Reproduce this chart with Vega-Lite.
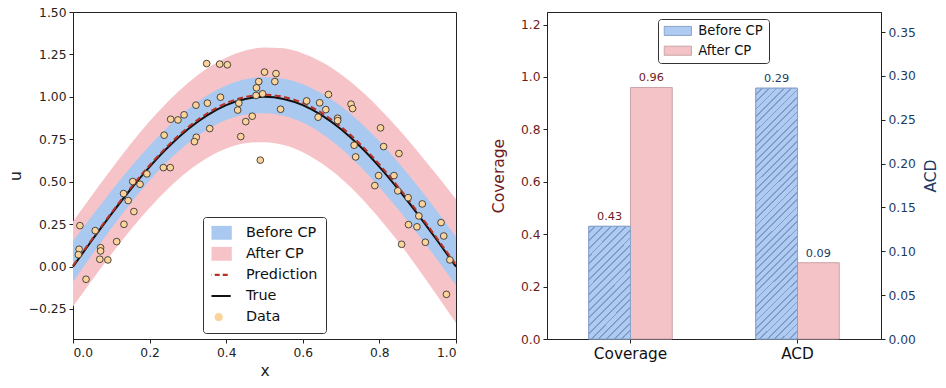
{
  "$schema": "https://vega.github.io/schema/vega-lite/v6.json",
  "padding": {"left": 7, "top": 5, "right": 0, "bottom": 0},
  "background": "white",
  "config": {
    "font": "DejaVu Sans",
    "view": {"stroke": "#222222", "strokeWidth": 1},
    "axis": {"grid": false, "tickColor": "#222222", "domainColor": "#222222", "domainWidth": 1, "tickWidth": 1, "tickSize": 4, "labelPadding": 3, "labelFontSize": 12.3, "labelColor": "#222222", "titleFontSize": 15.5, "titleFontWeight": "normal", "titleColor": "#222222"}
  },
  "datasets": {
    "curve": [
      {"x": 0, "t": 0, "p": 0.005, "blo": -0.09, "bhi": 0.15, "plo": -0.235, "phi": 0.265},
      {"x": 0.05, "t": 0.1564, "p": 0.1624, "blo": 0.0694, "bhi": 0.2994, "plo": -0.0786, "phi": 0.4214},
      {"x": 0.1, "t": 0.309, "p": 0.316, "blo": 0.225, "bhi": 0.445, "plo": 0.072, "phi": 0.574},
      {"x": 0.15, "t": 0.454, "p": 0.462, "blo": 0.372, "bhi": 0.584, "plo": 0.215, "phi": 0.721},
      {"x": 0.2, "t": 0.5878, "p": 0.5968, "blo": 0.5068, "bhi": 0.7128, "plo": 0.3458, "phi": 0.8558},
      {"x": 0.25, "t": 0.7071, "p": 0.7171, "blo": 0.6261, "bhi": 0.8281, "plo": 0.4631, "phi": 0.9771},
      {"x": 0.3, "t": 0.809, "p": 0.82, "blo": 0.727, "bhi": 0.927, "plo": 0.561, "phi": 1.081},
      {"x": 0.35, "t": 0.891, "p": 0.902, "blo": 0.806, "bhi": 1.008, "plo": 0.639, "phi": 1.167},
      {"x": 0.4, "t": 0.9511, "p": 0.9631, "blo": 0.8631, "bhi": 1.0671, "plo": 0.6951, "phi": 1.2311},
      {"x": 0.45, "t": 0.9877, "p": 0.9997, "blo": 0.8957, "bhi": 1.1037, "plo": 0.7267, "phi": 1.2727},
      {"x": 0.5, "t": 1, "p": 1.012, "blo": 0.904, "bhi": 1.116, "plo": 0.733, "phi": 1.291},
      {"x": 0.55, "t": 0.9877, "p": 0.9997, "blo": 0.8887, "bhi": 1.1067, "plo": 0.7157, "phi": 1.2857},
      {"x": 0.6, "t": 0.9511, "p": 0.9641, "blo": 0.8481, "bhi": 1.0741, "plo": 0.6741, "phi": 1.2561},
      {"x": 0.65, "t": 0.891, "p": 0.904, "blo": 0.783, "bhi": 1.019, "plo": 0.607, "phi": 1.205},
      {"x": 0.7, "t": 0.809, "p": 0.823, "blo": 0.696, "bhi": 0.944, "plo": 0.519, "phi": 1.131},
      {"x": 0.75, "t": 0.7071, "p": 0.7211, "blo": 0.5891, "bhi": 0.8491, "plo": 0.4101, "phi": 1.0401},
      {"x": 0.8, "t": 0.5878, "p": 0.6018, "blo": 0.4678, "bhi": 0.7378, "plo": 0.2838, "phi": 0.9318},
      {"x": 0.85, "t": 0.454, "p": 0.467, "blo": 0.334, "bhi": 0.612, "plo": 0.144, "phi": 0.81},
      {"x": 0.9, "t": 0.309, "p": 0.321, "blo": 0.192, "bhi": 0.474, "plo": -0.008, "phi": 0.678},
      {"x": 0.95, "t": 0.1564, "p": 0.1674, "blo": 0.0434, "bhi": 0.3274, "plo": -0.1686, "phi": 0.5394},
      {"x": 1, "t": 0, "p": 0.01, "blo": -0.11, "bhi": 0.176, "plo": -0.333, "phi": 0.397}
    ],
    "pts": [
      {"x": 0.349, "u": 1.196}, {"x": 0.383, "u": 1.193}, {"x": 0.403, "u": 1.189}, {"x": 0.5, "u": 1.146},
      {"x": 0.53, "u": 1.137}, {"x": 0.485, "u": 1.09}, {"x": 0.527, "u": 1.09}, {"x": 0.479, "u": 1.053},
      {"x": 0.495, "u": 1.018}, {"x": 0.478, "u": 1.008}, {"x": 0.385, "u": 0.998}, {"x": 0.351, "u": 0.963},
      {"x": 0.433, "u": 0.963}, {"x": 0.321, "u": 0.951}, {"x": 0.43, "u": 0.922}, {"x": 0.542, "u": 0.927},
      {"x": 0.61, "u": 0.976}, {"x": 0.644, "u": 0.965}, {"x": 0.667, "u": 1.014}, {"x": 0.66, "u": 0.925},
      {"x": 0.64, "u": 0.88}, {"x": 0.691, "u": 0.874}, {"x": 0.691, "u": 0.86}, {"x": 0.726, "u": 0.957},
      {"x": 0.73, "u": 0.931}, {"x": 0.255, "u": 0.868}, {"x": 0.274, "u": 0.864}, {"x": 0.29, "u": 0.894},
      {"x": 0.468, "u": 0.886}, {"x": 0.451, "u": 0.854}, {"x": 0.357, "u": 0.813}, {"x": 0.438, "u": 0.766},
      {"x": 0.322, "u": 0.762}, {"x": 0.317, "u": 0.736}, {"x": 0.238, "u": 0.774}, {"x": 0.489, "u": 0.627},
      {"x": 0.236, "u": 0.583}, {"x": 0.254, "u": 0.583}, {"x": 0.193, "u": 0.546}, {"x": 0.156, "u": 0.501},
      {"x": 0.175, "u": 0.485}, {"x": 0.132, "u": 0.43}, {"x": 0.803, "u": 0.817}, {"x": 0.811, "u": 0.707},
      {"x": 0.734, "u": 0.715}, {"x": 0.738, "u": 0.646}, {"x": 0.851, "u": 0.666}, {"x": 0.798, "u": 0.536},
      {"x": 0.788, "u": 0.477}, {"x": 0.838, "u": 0.536}, {"x": 0.848, "u": 0.446}, {"x": 0.875, "u": 0.406},
      {"x": 0.144, "u": 0.389}, {"x": 0.159, "u": 0.324}, {"x": 0.133, "u": 0.249}, {"x": 0.114, "u": 0.147},
      {"x": 0.058, "u": 0.212}, {"x": 0.018, "u": 0.241}, {"x": 0.016, "u": 0.102}, {"x": 0.014, "u": 0.07},
      {"x": 0.072, "u": 0.111}, {"x": 0.072, "u": 0.092}, {"x": 0.07, "u": 0.043}, {"x": 0.091, "u": 0.039},
      {"x": 0.034, "u": -0.075}, {"x": 0.912, "u": 0.369}, {"x": 0.903, "u": 0.298}, {"x": 0.961, "u": 0.259},
      {"x": 0.968, "u": 0.18}, {"x": 0.876, "u": 0.247}, {"x": 0.898, "u": 0.234}, {"x": 0.858, "u": 0.131},
      {"x": 0.92, "u": 0.143}, {"x": 0.984, "u": 0.039}, {"x": 0.975, "u": -0.164}
    ],
    "bars": [
      {"metric": "Coverage", "method": "Before CP", "value": 0.43},
      {"metric": "Coverage", "method": "After CP", "value": 0.96},
      {"metric": "ACD", "method": "Before CP", "value": 0.286},
      {"metric": "ACD", "method": "After CP", "value": 0.087}
    ]
  },
  "spacing": 91,
  "bounds": "flush",
  "resolve": {"scale": {"color": "independent", "stroke": "independent"}, "legend": {"color": "independent"}},
  "hconcat": [
    {
      "width": 383,
      "height": 327,
      "encoding": {
        "x": {"field": "x", "type": "quantitative", "title": "x", "scale": {"domain": [0, 1], "nice": false, "zero": false}, "axis": {"values": [0, 0.2, 0.4, 0.6, 0.8, 1], "format": ".1f", "titlePadding": 5}},
        "color": {
          "scale": {"domain": ["Before CP", "After CP", "Prediction", "True", "Data"], "range": ["#aac9f1", "#f6c4c8", "#b83227", "#111111", "#fbd39b"]},
          "legend": {
            "orient": "none", "legendX": 130, "legendY": 205, "title": null,
            "labelFontSize": 14.4, "labelColor": "#111111", "symbolSize": 576, "clipHeight": 14.4, "labelOffset": 20, "rowPadding": 5.1,
            "padding": 8.5, "strokeColor": "#333333", "cornerRadius": 3, "fillColor": "white",
            "encode": {
              "symbols": {
                "update": {
                  "shape": {"signal": "datum.value === 'Data' ? 'circle' : (datum.value === 'Prediction' || datum.value === 'True') ? 'stroke' : 'M-1,-0.49L1,-0.49L1,0.49L-1,0.49Z'"},
                  "size": {"signal": "datum.value === 'Data' ? 55 : 576"},
                  "fill": {"signal": "datum.value === 'Before CP' ? '#aac9f1' : datum.value === 'After CP' ? '#f6c4c8' : datum.value === 'Data' ? '#fbd39b' : 'transparent'"},
                  "stroke": {"signal": "datum.value === 'Prediction' ? '#b83227' : datum.value === 'True' ? '#111111' : datum.value === 'Data' ? '#111111' : 'transparent'"},
                  "strokeWidth": {"signal": "datum.value === 'Data' ? 1 : 2.2"},
                  "strokeDash": {"signal": "datum.value === 'Prediction' ? [5, 3] : []"},
                  "strokeOpacity": {"value": 1},
                  "fillOpacity": {"value": 1},
                  "opacity": {"value": 1}
                }
              }
            }
          }
        }
      },
      "layer": [
        {
          "data": {"name": "curve"},
          "mark": {"type": "area", "interpolate": "monotone", "opacity": 1},
          "encoding": {
            "y": {"field": "plo", "type": "quantitative", "title": "u", "scale": {"domain": [-0.427, 1.5], "nice": false, "zero": false}, "axis": {"values": [-0.25, 0, 0.25, 0.5, 0.75, 1, 1.25, 1.5], "format": ".2f", "titlePadding": 5}},
            "y2": {"field": "phi"},
            "color": {"datum": "After CP"}
          }
        },
        {
          "data": {"name": "curve"},
          "mark": {"type": "area", "interpolate": "monotone", "opacity": 1},
          "encoding": {
            "y": {"field": "blo", "type": "quantitative", "title": "u", "scale": {"domain": [-0.427, 1.5], "nice": false, "zero": false}},
            "y2": {"field": "bhi"},
            "color": {"datum": "Before CP"}
          }
        },
        {
          "data": {"name": "curve"},
          "mark": {"type": "line", "interpolate": "monotone", "strokeWidth": 2},
          "encoding": {
            "y": {"field": "t", "type": "quantitative", "title": "u", "scale": {"domain": [-0.427, 1.5], "nice": false, "zero": false}},
            "color": {"datum": "True"}
          }
        },
        {
          "data": {"name": "curve"},
          "mark": {"type": "line", "interpolate": "monotone", "strokeWidth": 2, "strokeDash": [6, 3.5]},
          "encoding": {
            "y": {"field": "p", "type": "quantitative", "title": "u", "scale": {"domain": [-0.427, 1.5], "nice": false, "zero": false}},
            "color": {"datum": "Prediction"}
          }
        },
        {
          "data": {"name": "pts"},
          "mark": {"type": "circle", "size": 45, "opacity": 1, "stroke": "#222222", "strokeWidth": 0.8},
          "encoding": {
            "y": {"field": "u", "type": "quantitative", "title": "u", "scale": {"domain": [-0.427, 1.5], "nice": false, "zero": false}},
            "color": {"datum": "Data"}
          }
        }
      ]
    },
    {
      "width": 334,
      "height": 327,
      "data": {"name": "bars"},
      "encoding": {
        "x": {"field": "metric", "type": "nominal", "title": null, "sort": ["Coverage", "ACD"], "scale": {"domain": ["Coverage", "ACD"], "paddingInner": 0.5, "paddingOuter": 0.25}, "axis": {"labelAngle": 0, "labelFontSize": 15.3, "labelColor": "#111111"}},
        "xOffset": {"field": "method", "type": "nominal", "sort": ["Before CP", "After CP"], "scale": {"domain": ["Before CP", "After CP"], "paddingInner": 0, "paddingOuter": 0}}
      },
      "layer": [
        {
          "transform": [{"filter": "datum.metric === 'Coverage'"}],
          "mark": {"type": "bar", "strokeWidth": 1},
          "encoding": {
            "y": {"field": "value", "type": "quantitative", "scale": {"domain": [0, 1.248], "nice": false}, "axis": {"orient": "left", "title": "Coverage", "values": [0, 0.2, 0.4, 0.6, 0.8, 1, 1.2], "format": ".1f", "labelColor": "#6e1a1a", "titleColor": "#6e1a1a", "titlePadding": 14}},
            "color": {
              "field": "method", "type": "nominal",
              "scale": {"domain": ["Before CP", "After CP"], "range": ["#afcbf2", "#f3c3c7"]},
              "legend": {
                "orient": "none", "legendX": 111, "legendY": 7, "title": null,
                "labelFontSize": 13.2, "labelColor": "#111111", "symbolSize": 745, "clipHeight": 13.2, "labelOffset": 6, "rowPadding": 4.8,
                "padding": 5.3, "strokeColor": "#333333", "cornerRadius": 3, "fillColor": "white",
                "symbolType": "M-1,-0.33L1,-0.33L1,0.33L-1,0.33Z",
                "encode": {
                  "symbols": {
                    "update": {
                      "fill": {"signal": "datum.value === 'Before CP' ? {gradient: 'linear', x1: 0, y1: 0, x2: 1.2, y2: 0.396, stops: [{offset: 0, color: '#afcbf2'}, {offset: 0.15, color: '#afcbf2'}, {offset: 0.15, color: '#7f9dcc'}, {offset: 0.2, color: '#7f9dcc'}, {offset: 0.2, color: '#afcbf2'}, {offset: 0.35, color: '#afcbf2'}, {offset: 0.35, color: '#7f9dcc'}, {offset: 0.4, color: '#7f9dcc'}, {offset: 0.4, color: '#afcbf2'}, {offset: 0.55, color: '#afcbf2'}, {offset: 0.55, color: '#7f9dcc'}, {offset: 0.6, color: '#7f9dcc'}, {offset: 0.6, color: '#afcbf2'}, {offset: 0.75, color: '#afcbf2'}, {offset: 0.75, color: '#7f9dcc'}, {offset: 0.8, color: '#7f9dcc'}, {offset: 0.8, color: '#afcbf2'}, {offset: 0.95, color: '#afcbf2'}, {offset: 0.95, color: '#7f9dcc'}, {offset: 1, color: '#7f9dcc'}]} : '#f3c3c7'"},
                      "stroke": {"signal": "datum.value === 'Before CP' ? '#8aa2c6' : '#c9a3a7'"},
                      "strokeWidth": {"value": 1},
                      "opacity": {"value": 1}
                    }
                  }
                }
              }
            },
            "stroke": {"field": "method", "type": "nominal", "scale": {"domain": ["Before CP", "After CP"], "range": ["#8aa2c6", "#c9a3a7"]}, "legend": null}
          }
        },
        {
          "transform": [{"filter": "datum.metric === 'ACD'"}],
          "mark": {"type": "bar", "strokeWidth": 1},
          "encoding": {
            "y": {"field": "value", "type": "quantitative", "scale": {"domain": [0, 0.3729], "nice": false}, "axis": {"orient": "right", "title": "ACD", "values": [0, 0.05, 0.1, 0.15, 0.2, 0.25, 0.3, 0.35], "format": ".2f", "labelColor": "#1c3a63", "titleColor": "#1c3a63", "titleAngle": 270, "titleBaseline": "top", "titlePadding": 8}},
            "color": {"field": "method", "type": "nominal", "scale": {"domain": ["Before CP", "After CP"], "range": ["#afcbf2", "#f3c3c7"]}},
            "stroke": {"field": "method", "type": "nominal", "scale": {"domain": ["Before CP", "After CP"], "range": ["#8aa2c6", "#c9a3a7"]}, "legend": null}
          }
        },
        {
          "transform": [{"filter": "datum.metric === 'Coverage' && datum.method === 'Before CP'"}],
          "mark": {
            "type": "bar", "stroke": "#8aa2c6", "strokeWidth": 1,
            "fill": {"gradient": "linear", "x1": 0, "y1": 0, "x2": 0.4496, "y2": 1.2054, "stops": [
              {"offset": 0, "color": "#afcbf2"},
              {"offset": 0.0375, "color": "#afcbf2"}, {"offset": 0.0375, "color": "#7f9dcc"}, {"offset": 0.05, "color": "#7f9dcc"}, {"offset": 0.05, "color": "#afcbf2"},
              {"offset": 0.0875, "color": "#afcbf2"}, {"offset": 0.0875, "color": "#7f9dcc"}, {"offset": 0.1, "color": "#7f9dcc"}, {"offset": 0.1, "color": "#afcbf2"},
              {"offset": 0.1375, "color": "#afcbf2"}, {"offset": 0.1375, "color": "#7f9dcc"}, {"offset": 0.15, "color": "#7f9dcc"}, {"offset": 0.15, "color": "#afcbf2"},
              {"offset": 0.1875, "color": "#afcbf2"}, {"offset": 0.1875, "color": "#7f9dcc"}, {"offset": 0.2, "color": "#7f9dcc"}, {"offset": 0.2, "color": "#afcbf2"},
              {"offset": 0.2375, "color": "#afcbf2"}, {"offset": 0.2375, "color": "#7f9dcc"}, {"offset": 0.25, "color": "#7f9dcc"}, {"offset": 0.25, "color": "#afcbf2"},
              {"offset": 0.2875, "color": "#afcbf2"}, {"offset": 0.2875, "color": "#7f9dcc"}, {"offset": 0.3, "color": "#7f9dcc"}, {"offset": 0.3, "color": "#afcbf2"},
              {"offset": 0.3375, "color": "#afcbf2"}, {"offset": 0.3375, "color": "#7f9dcc"}, {"offset": 0.35, "color": "#7f9dcc"}, {"offset": 0.35, "color": "#afcbf2"},
              {"offset": 0.3875, "color": "#afcbf2"}, {"offset": 0.3875, "color": "#7f9dcc"}, {"offset": 0.4, "color": "#7f9dcc"}, {"offset": 0.4, "color": "#afcbf2"},
              {"offset": 0.4375, "color": "#afcbf2"}, {"offset": 0.4375, "color": "#7f9dcc"}, {"offset": 0.45, "color": "#7f9dcc"}, {"offset": 0.45, "color": "#afcbf2"},
              {"offset": 0.4875, "color": "#afcbf2"}, {"offset": 0.4875, "color": "#7f9dcc"}, {"offset": 0.5, "color": "#7f9dcc"}, {"offset": 0.5, "color": "#afcbf2"},
              {"offset": 0.5375, "color": "#afcbf2"}, {"offset": 0.5375, "color": "#7f9dcc"}, {"offset": 0.55, "color": "#7f9dcc"}, {"offset": 0.55, "color": "#afcbf2"},
              {"offset": 0.5875, "color": "#afcbf2"}, {"offset": 0.5875, "color": "#7f9dcc"}, {"offset": 0.6, "color": "#7f9dcc"}, {"offset": 0.6, "color": "#afcbf2"},
              {"offset": 0.6375, "color": "#afcbf2"}, {"offset": 0.6375, "color": "#7f9dcc"}, {"offset": 0.65, "color": "#7f9dcc"}, {"offset": 0.65, "color": "#afcbf2"},
              {"offset": 0.6875, "color": "#afcbf2"}, {"offset": 0.6875, "color": "#7f9dcc"}, {"offset": 0.7, "color": "#7f9dcc"}, {"offset": 0.7, "color": "#afcbf2"},
              {"offset": 0.7375, "color": "#afcbf2"}, {"offset": 0.7375, "color": "#7f9dcc"}, {"offset": 0.75, "color": "#7f9dcc"}, {"offset": 0.75, "color": "#afcbf2"},
              {"offset": 0.7875, "color": "#afcbf2"}, {"offset": 0.7875, "color": "#7f9dcc"}, {"offset": 0.8, "color": "#7f9dcc"}, {"offset": 0.8, "color": "#afcbf2"},
              {"offset": 0.8375, "color": "#afcbf2"}, {"offset": 0.8375, "color": "#7f9dcc"}, {"offset": 0.85, "color": "#7f9dcc"}, {"offset": 0.85, "color": "#afcbf2"},
              {"offset": 0.8875, "color": "#afcbf2"}, {"offset": 0.8875, "color": "#7f9dcc"}, {"offset": 0.9, "color": "#7f9dcc"}, {"offset": 0.9, "color": "#afcbf2"},
              {"offset": 0.9375, "color": "#afcbf2"}, {"offset": 0.9375, "color": "#7f9dcc"}, {"offset": 0.95, "color": "#7f9dcc"}, {"offset": 0.95, "color": "#afcbf2"},
              {"offset": 0.9875, "color": "#afcbf2"}, {"offset": 0.9875, "color": "#7f9dcc"}, {"offset": 1, "color": "#7f9dcc"}
            ]}
          },
          "encoding": {
            "y": {"field": "value", "type": "quantitative", "scale": {"domain": [0, 1.248], "nice": false}, "axis": null}
          }
        },
        {
          "transform": [{"filter": "datum.metric === 'ACD' && datum.method === 'Before CP'"}],
          "mark": {
            "type": "bar", "stroke": "#8aa2c6", "strokeWidth": 1,
            "fill": {"gradient": "linear", "x1": 0, "y1": 0, "x2": 0.1881, "y2": 1.1346, "stops": [
              {"offset": 0, "color": "#afcbf2"},
              {"offset": 0.01875, "color": "#afcbf2"}, {"offset": 0.01875, "color": "#7f9dcc"}, {"offset": 0.025, "color": "#7f9dcc"}, {"offset": 0.025, "color": "#afcbf2"},
              {"offset": 0.04375, "color": "#afcbf2"}, {"offset": 0.04375, "color": "#7f9dcc"}, {"offset": 0.05, "color": "#7f9dcc"}, {"offset": 0.05, "color": "#afcbf2"},
              {"offset": 0.06875, "color": "#afcbf2"}, {"offset": 0.06875, "color": "#7f9dcc"}, {"offset": 0.075, "color": "#7f9dcc"}, {"offset": 0.075, "color": "#afcbf2"},
              {"offset": 0.09375, "color": "#afcbf2"}, {"offset": 0.09375, "color": "#7f9dcc"}, {"offset": 0.1, "color": "#7f9dcc"}, {"offset": 0.1, "color": "#afcbf2"},
              {"offset": 0.11875, "color": "#afcbf2"}, {"offset": 0.11875, "color": "#7f9dcc"}, {"offset": 0.125, "color": "#7f9dcc"}, {"offset": 0.125, "color": "#afcbf2"},
              {"offset": 0.14375, "color": "#afcbf2"}, {"offset": 0.14375, "color": "#7f9dcc"}, {"offset": 0.15, "color": "#7f9dcc"}, {"offset": 0.15, "color": "#afcbf2"},
              {"offset": 0.16875, "color": "#afcbf2"}, {"offset": 0.16875, "color": "#7f9dcc"}, {"offset": 0.175, "color": "#7f9dcc"}, {"offset": 0.175, "color": "#afcbf2"},
              {"offset": 0.19375, "color": "#afcbf2"}, {"offset": 0.19375, "color": "#7f9dcc"}, {"offset": 0.2, "color": "#7f9dcc"}, {"offset": 0.2, "color": "#afcbf2"},
              {"offset": 0.21875, "color": "#afcbf2"}, {"offset": 0.21875, "color": "#7f9dcc"}, {"offset": 0.225, "color": "#7f9dcc"}, {"offset": 0.225, "color": "#afcbf2"},
              {"offset": 0.24375, "color": "#afcbf2"}, {"offset": 0.24375, "color": "#7f9dcc"}, {"offset": 0.25, "color": "#7f9dcc"}, {"offset": 0.25, "color": "#afcbf2"},
              {"offset": 0.26875, "color": "#afcbf2"}, {"offset": 0.26875, "color": "#7f9dcc"}, {"offset": 0.275, "color": "#7f9dcc"}, {"offset": 0.275, "color": "#afcbf2"},
              {"offset": 0.29375, "color": "#afcbf2"}, {"offset": 0.29375, "color": "#7f9dcc"}, {"offset": 0.3, "color": "#7f9dcc"}, {"offset": 0.3, "color": "#afcbf2"},
              {"offset": 0.31875, "color": "#afcbf2"}, {"offset": 0.31875, "color": "#7f9dcc"}, {"offset": 0.325, "color": "#7f9dcc"}, {"offset": 0.325, "color": "#afcbf2"},
              {"offset": 0.34375, "color": "#afcbf2"}, {"offset": 0.34375, "color": "#7f9dcc"}, {"offset": 0.35, "color": "#7f9dcc"}, {"offset": 0.35, "color": "#afcbf2"},
              {"offset": 0.36875, "color": "#afcbf2"}, {"offset": 0.36875, "color": "#7f9dcc"}, {"offset": 0.375, "color": "#7f9dcc"}, {"offset": 0.375, "color": "#afcbf2"},
              {"offset": 0.39375, "color": "#afcbf2"}, {"offset": 0.39375, "color": "#7f9dcc"}, {"offset": 0.4, "color": "#7f9dcc"}, {"offset": 0.4, "color": "#afcbf2"},
              {"offset": 0.41875, "color": "#afcbf2"}, {"offset": 0.41875, "color": "#7f9dcc"}, {"offset": 0.425, "color": "#7f9dcc"}, {"offset": 0.425, "color": "#afcbf2"},
              {"offset": 0.44375, "color": "#afcbf2"}, {"offset": 0.44375, "color": "#7f9dcc"}, {"offset": 0.45, "color": "#7f9dcc"}, {"offset": 0.45, "color": "#afcbf2"},
              {"offset": 0.46875, "color": "#afcbf2"}, {"offset": 0.46875, "color": "#7f9dcc"}, {"offset": 0.475, "color": "#7f9dcc"}, {"offset": 0.475, "color": "#afcbf2"},
              {"offset": 0.49375, "color": "#afcbf2"}, {"offset": 0.49375, "color": "#7f9dcc"}, {"offset": 0.5, "color": "#7f9dcc"}, {"offset": 0.5, "color": "#afcbf2"},
              {"offset": 0.51875, "color": "#afcbf2"}, {"offset": 0.51875, "color": "#7f9dcc"}, {"offset": 0.525, "color": "#7f9dcc"}, {"offset": 0.525, "color": "#afcbf2"},
              {"offset": 0.54375, "color": "#afcbf2"}, {"offset": 0.54375, "color": "#7f9dcc"}, {"offset": 0.55, "color": "#7f9dcc"}, {"offset": 0.55, "color": "#afcbf2"},
              {"offset": 0.56875, "color": "#afcbf2"}, {"offset": 0.56875, "color": "#7f9dcc"}, {"offset": 0.575, "color": "#7f9dcc"}, {"offset": 0.575, "color": "#afcbf2"},
              {"offset": 0.59375, "color": "#afcbf2"}, {"offset": 0.59375, "color": "#7f9dcc"}, {"offset": 0.6, "color": "#7f9dcc"}, {"offset": 0.6, "color": "#afcbf2"},
              {"offset": 0.61875, "color": "#afcbf2"}, {"offset": 0.61875, "color": "#7f9dcc"}, {"offset": 0.625, "color": "#7f9dcc"}, {"offset": 0.625, "color": "#afcbf2"},
              {"offset": 0.64375, "color": "#afcbf2"}, {"offset": 0.64375, "color": "#7f9dcc"}, {"offset": 0.65, "color": "#7f9dcc"}, {"offset": 0.65, "color": "#afcbf2"},
              {"offset": 0.66875, "color": "#afcbf2"}, {"offset": 0.66875, "color": "#7f9dcc"}, {"offset": 0.675, "color": "#7f9dcc"}, {"offset": 0.675, "color": "#afcbf2"},
              {"offset": 0.69375, "color": "#afcbf2"}, {"offset": 0.69375, "color": "#7f9dcc"}, {"offset": 0.7, "color": "#7f9dcc"}, {"offset": 0.7, "color": "#afcbf2"},
              {"offset": 0.71875, "color": "#afcbf2"}, {"offset": 0.71875, "color": "#7f9dcc"}, {"offset": 0.725, "color": "#7f9dcc"}, {"offset": 0.725, "color": "#afcbf2"},
              {"offset": 0.74375, "color": "#afcbf2"}, {"offset": 0.74375, "color": "#7f9dcc"}, {"offset": 0.75, "color": "#7f9dcc"}, {"offset": 0.75, "color": "#afcbf2"},
              {"offset": 0.76875, "color": "#afcbf2"}, {"offset": 0.76875, "color": "#7f9dcc"}, {"offset": 0.775, "color": "#7f9dcc"}, {"offset": 0.775, "color": "#afcbf2"},
              {"offset": 0.79375, "color": "#afcbf2"}, {"offset": 0.79375, "color": "#7f9dcc"}, {"offset": 0.8, "color": "#7f9dcc"}, {"offset": 0.8, "color": "#afcbf2"},
              {"offset": 0.81875, "color": "#afcbf2"}, {"offset": 0.81875, "color": "#7f9dcc"}, {"offset": 0.825, "color": "#7f9dcc"}, {"offset": 0.825, "color": "#afcbf2"},
              {"offset": 0.84375, "color": "#afcbf2"}, {"offset": 0.84375, "color": "#7f9dcc"}, {"offset": 0.85, "color": "#7f9dcc"}, {"offset": 0.85, "color": "#afcbf2"},
              {"offset": 0.86875, "color": "#afcbf2"}, {"offset": 0.86875, "color": "#7f9dcc"}, {"offset": 0.875, "color": "#7f9dcc"}, {"offset": 0.875, "color": "#afcbf2"},
              {"offset": 0.89375, "color": "#afcbf2"}, {"offset": 0.89375, "color": "#7f9dcc"}, {"offset": 0.9, "color": "#7f9dcc"}, {"offset": 0.9, "color": "#afcbf2"},
              {"offset": 0.91875, "color": "#afcbf2"}, {"offset": 0.91875, "color": "#7f9dcc"}, {"offset": 0.925, "color": "#7f9dcc"}, {"offset": 0.925, "color": "#afcbf2"},
              {"offset": 0.94375, "color": "#afcbf2"}, {"offset": 0.94375, "color": "#7f9dcc"}, {"offset": 0.95, "color": "#7f9dcc"}, {"offset": 0.95, "color": "#afcbf2"},
              {"offset": 0.96875, "color": "#afcbf2"}, {"offset": 0.96875, "color": "#7f9dcc"}, {"offset": 0.975, "color": "#7f9dcc"}, {"offset": 0.975, "color": "#afcbf2"},
              {"offset": 0.99375, "color": "#afcbf2"}, {"offset": 0.99375, "color": "#7f9dcc"}, {"offset": 1, "color": "#7f9dcc"}
            ]}
          },
          "encoding": {
            "y": {"field": "value", "type": "quantitative", "scale": {"domain": [0, 0.3729], "nice": false}, "axis": null}
          }
        },
        {
          "transform": [{"filter": "datum.metric === 'Coverage'"}],
          "mark": {"type": "text", "dy": -6, "fontSize": 11.3, "fill": "#6e1a1a", "baseline": "alphabetic"},
          "encoding": {
            "y": {"field": "value", "type": "quantitative", "scale": {"domain": [0, 1.248], "nice": false}, "axis": null},
            "text": {"field": "value", "type": "quantitative", "format": ".2f"}
          }
        },
        {
          "transform": [{"filter": "datum.metric === 'ACD'"}],
          "mark": {"type": "text", "dy": -6, "fontSize": 11.3, "fill": "#1c3a63", "baseline": "alphabetic"},
          "encoding": {
            "y": {"field": "value", "type": "quantitative", "scale": {"domain": [0, 0.3729], "nice": false}, "axis": null},
            "text": {"field": "value", "type": "quantitative", "format": ".2f"}
          }
        }
      ],
      "resolve": {"scale": {"y": "independent"}}
    }
  ]
}
